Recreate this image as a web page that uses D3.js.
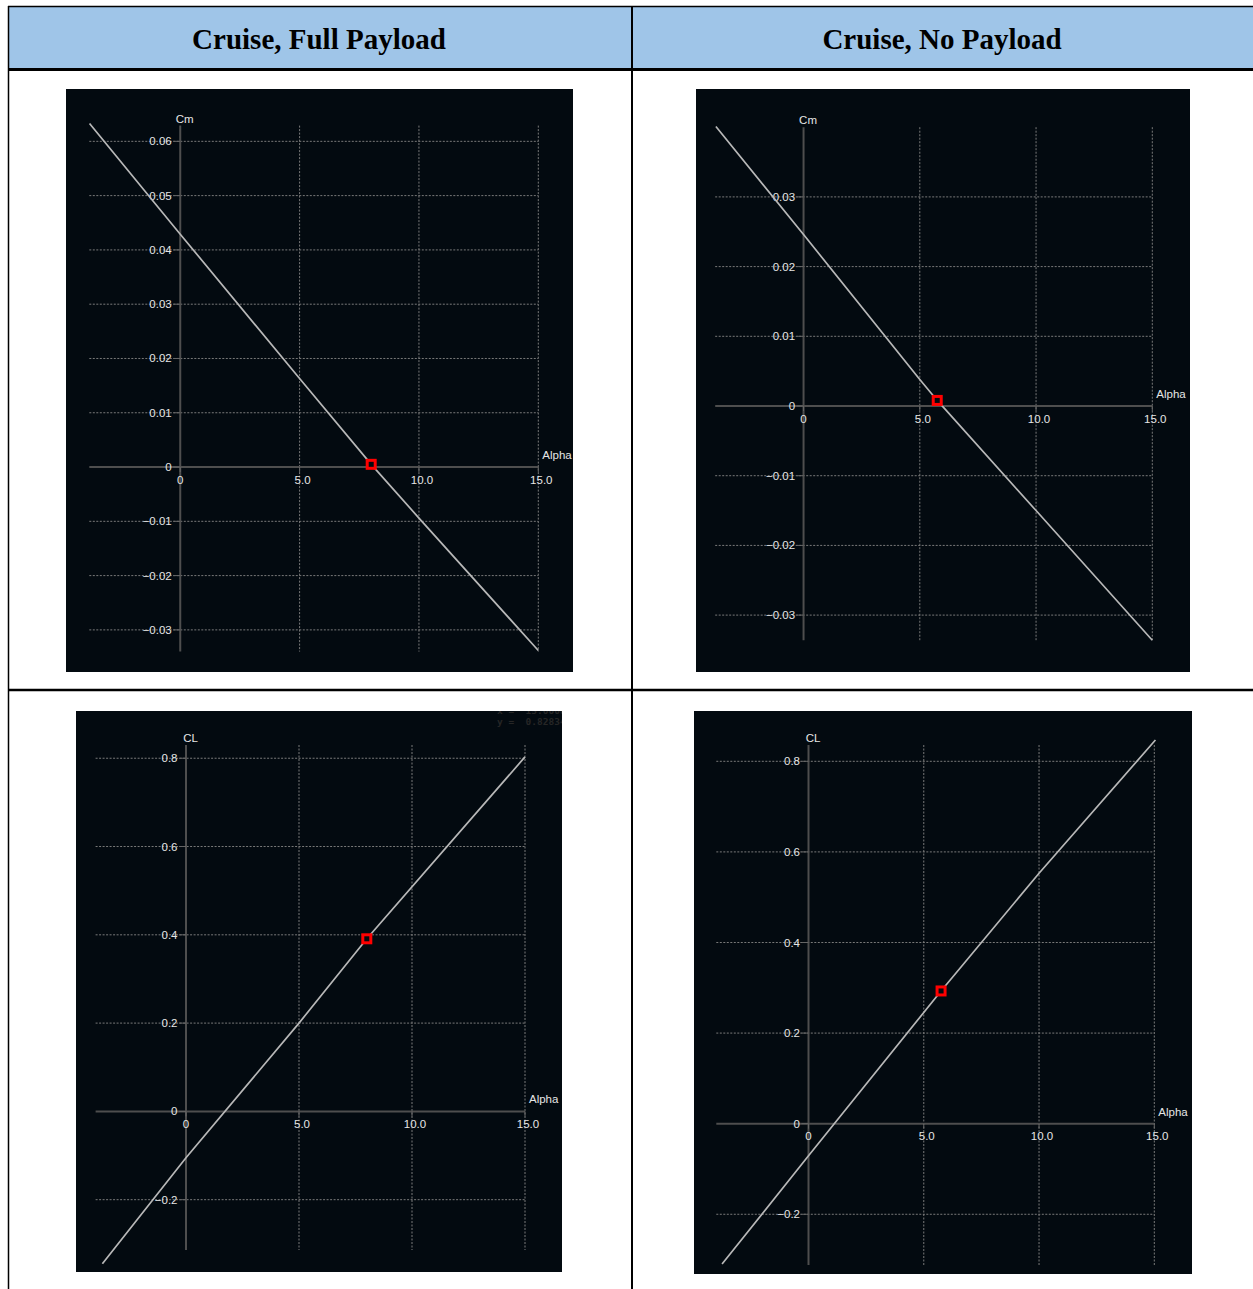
<!DOCTYPE html>
<html>
<head>
<meta charset="utf-8">
<script src="https://cdn.jsdelivr.net/npm/d3@7"></script>
<style>
  html, body { margin: 0; padding: 0; background: #ffffff; }
  svg { display: block; }
</style>
</head>
<body>
<svg id="page" width="1253" height="1289"></svg>
<script>
// ---- Table headings ----
const columnTitles = ["Cruise, Full Payload", "Cruise, No Payload"];

// ---- Shared alpha axis ticks ----
const alphaTicks = [0, 5, 10, 15];

// ---- Pitching moment, full payload ----
const cmFullAlpha  = [-3.8, 0, 5, 8, 10, 15];
const cmFullValues = [0.0633, 0.0429, 0.0163, 0.0005, -0.0094, -0.0338];
const cmFullTrim   = [8.0, 0.0005];
const cmFullTicks  = [-0.03, -0.02, -0.01, 0, 0.01, 0.02, 0.03, 0.04, 0.05, 0.06];

// ---- Pitching moment, no payload ----
const cmNoAlpha  = [-3.77, 0, 5, 5.75, 10, 15];
const cmNoValues = [0.0401, 0.0246, 0.0038, 0.0008, -0.0150, -0.0336];
const cmNoTrim   = [5.75, 0.0008];
const cmNoTicks  = [-0.03, -0.02, -0.01, 0, 0.01, 0.02, 0.03];

// ---- Lift coefficient, full payload ----
const clFullAlpha  = [-3.7, 0, 5, 8, 15];
const clFullValues = [-0.345, -0.105, 0.2, 0.391, 0.803];
const clFullTrim   = [8.0, 0.391];

// ---- Lift coefficient, no payload ----
const clNoAlpha  = [-3.75, 0, 5.75, 10, 15.05];
const clNoValues = [-0.31, -0.071, 0.293, 0.553, 0.847];
const clNoTrim   = [5.75, 0.293];

const clTicks = [-0.2, 0, 0.2, 0.4, 0.6, 0.8];

// cursor readout left in the corner of the lift plot
const readoutLines = ["x =  15.0000", "y =  0.82834"];

// ---- Page / table frame ----
const svg = d3.select("#page");
const BG = "#030a10";
const headerFill = "#9fc5e8";

svg.append("rect").attr("x", 8).attr("y", 6).attr("width", 1253).attr("height", 63).attr("fill", headerFill);

const colCentres = [319, 942];
svg.selectAll("text.col-title")
  .data(columnTitles)
  .join("text")
  .attr("class", "col-title")
  .attr("x", (d, i) => colCentres[i])
  .attr("y", 49)
  .attr("text-anchor", "middle")
  .attr("font-family", "'Liberation Serif', 'Times New Roman', serif")
  .attr("font-weight", "bold")
  .attr("font-size", 29)
  .attr("fill", "#000")
  .text(d => d);

const frame = svg.append("g").attr("stroke", "#000").attr("fill", "none");
frame.append("line").attr("x1", 8).attr("x2", 1253).attr("y1", 6.5).attr("y2", 6.5).attr("stroke-width", 1.5);
frame.append("line").attr("x1", 8).attr("x2", 1253).attr("y1", 69.5).attr("y2", 69.5).attr("stroke-width", 3);
frame.append("line").attr("x1", 8).attr("x2", 1253).attr("y1", 690).attr("y2", 690).attr("stroke-width", 2.5);
frame.append("line").attr("x1", 8.5).attr("x2", 8.5).attr("y1", 6).attr("y2", 1289).attr("stroke-width", 1.5);
frame.append("line").attr("x1", 632).attr("x2", 632).attr("y1", 6).attr("y2", 1289).attr("stroke-width", 2);

// ---- Plot panels ----
const panels = [
  { id: "cmFull", alpha: cmFullAlpha, values: cmFullValues, trim: cmFullTrim, yTicks: cmFullTicks,
    yName: "Cm", yFmt: ".2f", box: [66, 89, 507, 583],
    xDomain: [-3.81, 15], xRange: [89.3, 538.3], yDomain: [0.0629, -0.034], yRange: [125.6, 651.6] },
  { id: "cmNo", alpha: cmNoAlpha, values: cmNoValues, trim: cmNoTrim, yTicks: cmNoTicks,
    yName: "Cm", yFmt: ".2f", box: [696, 89, 494, 583],
    xDomain: [-3.8, 15], xRange: [715.2, 1152.3], yDomain: [0.04, -0.0336], yRange: [127.2, 640.2] },
  { id: "clFull", alpha: clFullAlpha, values: clFullValues, trim: clFullTrim, yTicks: clTicks,
    yName: "CL", yFmt: ".1f", box: [76, 711, 486, 561], readout: true,
    xDomain: [-4.0, 15], xRange: [95.6, 525], yDomain: [0.83, -0.314], yRange: [745, 1250] },
  { id: "clNo", alpha: clNoAlpha, values: clNoValues, trim: clNoTrim, yTicks: clTicks,
    yName: "CL", yFmt: ".1f", box: [694, 711, 498, 563],
    xDomain: [-4.0, 15], xRange: [716.3, 1154.3], yDomain: [0.836, -0.312], yRange: [745, 1265] }
];

const labelFont = "'Liberation Sans', Arial, Helvetica, sans-serif";
const labelColour = "#e6e6e6";
const gridColour = "#7a7a7a";
const axisColour = "#4e4e4e";
const labelSize = 11.5;

panels.forEach(p => {
  const [bx, by, bw, bh] = p.box;
  const g = svg.append("g");

  const clipId = "clip-" + p.id;
  svg.append("clipPath").attr("id", clipId)
    .append("rect").attr("x", bx).attr("y", by).attr("width", bw).attr("height", bh);
  g.attr("clip-path", `url(#${clipId})`);

  g.append("rect").attr("x", bx).attr("y", by).attr("width", bw).attr("height", bh).attr("fill", BG);

  const x = d3.scaleLinear().domain(p.xDomain).range(p.xRange);
  const y = d3.scaleLinear().domain(p.yDomain).range(p.yRange);

  const x0 = x(0), y0 = y(0);
  const xLeft = x(p.xDomain[0]), xRight = x(15);
  const yTop = y(p.yDomain[0]), yBot = y(p.yDomain[1]);

  const yFmt = d3.format(p.yFmt);
  const xFmt = d3.format(".1f");

  // horizontal grid
  g.append("g").selectAll("line")
    .data(p.yTicks.filter(v => v !== 0))
    .join("line")
    .attr("x1", xLeft).attr("x2", xRight)
    .attr("y1", d => y(d)).attr("y2", d => y(d))
    .attr("stroke", gridColour).attr("stroke-width", 1).attr("stroke-dasharray", "2,1.5");

  // vertical grid
  g.append("g").selectAll("line")
    .data(alphaTicks.filter(v => v !== 0))
    .join("line")
    .attr("x1", d => x(d)).attr("x2", d => x(d))
    .attr("y1", yTop).attr("y2", yBot)
    .attr("stroke", gridColour).attr("stroke-width", 1).attr("stroke-dasharray", "2,1.5");

  // zero axes
  g.append("line").attr("x1", xLeft).attr("x2", xRight).attr("y1", y0).attr("y2", y0)
    .attr("stroke", axisColour).attr("stroke-width", 2);
  g.append("line").attr("x1", x0).attr("x2", x0).attr("y1", yTop).attr("y2", yBot)
    .attr("stroke", axisColour).attr("stroke-width", 2);

  // tick marks
  g.append("g").selectAll("line")
    .data(p.yTicks)
    .join("line")
    .attr("x1", x0 - 7).attr("x2", x0)
    .attr("y1", d => y(d)).attr("y2", d => y(d))
    .attr("stroke", "#666").attr("stroke-width", 1);
  g.append("g").selectAll("line")
    .data(alphaTicks)
    .join("line")
    .attr("x1", d => x(d)).attr("x2", d => x(d))
    .attr("y1", y0).attr("y2", y0 + 5)
    .attr("stroke", "#666").attr("stroke-width", 1);

  // y tick labels
  g.append("g").selectAll("text")
    .data(p.yTicks)
    .join("text")
    .attr("x", x0 - 8.5)
    .attr("y", d => y(d))
    .attr("dy", "0.35em")
    .attr("text-anchor", "end")
    .attr("font-family", labelFont).attr("font-size", labelSize).attr("fill", labelColour)
    .text(d => d === 0 ? "0" : yFmt(d));

  // x tick labels
  g.append("g").selectAll("text")
    .data(alphaTicks)
    .join("text")
    .attr("x", d => x(d) + (d === 0 ? 0 : 3))
    .attr("y", y0 + 12.5)
    .attr("dy", "0.35em")
    .attr("text-anchor", "middle")
    .attr("font-family", labelFont).attr("font-size", labelSize).attr("fill", labelColour)
    .text(d => d === 0 ? "0" : xFmt(d));

  // axis names
  g.append("text")
    .attr("x", x0 + 4.5).attr("y", yTop - 7).attr("dy", "0.35em")
    .attr("text-anchor", "middle")
    .attr("font-family", labelFont).attr("font-size", labelSize).attr("fill", labelColour)
    .text(p.yName);
  g.append("text")
    .attr("x", xRight + 4).attr("y", y0 - 12).attr("dy", "0.35em")
    .attr("text-anchor", "start")
    .attr("font-family", labelFont).attr("font-size", labelSize).attr("fill", labelColour)
    .text("Alpha");

  // curve
  const pts = p.alpha.map((a, i) => [a, p.values[i]]);
  g.append("path")
    .datum(pts)
    .attr("d", d3.line().x(d => x(d[0])).y(d => y(d[1])))
    .attr("fill", "none")
    .attr("stroke", "#b8b8b8")
    .attr("stroke-width", 1.7);

  // trim point
  g.append("rect")
    .attr("x", x(p.trim[0]) - 4).attr("y", y(p.trim[1]) - 4)
    .attr("width", 8).attr("height", 8)
    .attr("fill", BG).attr("stroke", "#ff0000").attr("stroke-width", 3);

  if (p.readout) {
    g.append("g").selectAll("text")
      .data(readoutLines)
      .join("text")
      .attr("x", bx + bw - 65)
      .attr("y", (d, i) => by + 3 + i * 11)
      .attr("font-family", "'DejaVu Sans Mono', 'Liberation Mono', monospace")
      .attr("font-weight", "bold")
      .attr("font-size", 9.5)
      .attr("fill", "#262626")
      .attr("xml:space", "preserve")
      .style("white-space", "pre")
      .text(d => d);
  }
});
</script>
</body>
</html>
